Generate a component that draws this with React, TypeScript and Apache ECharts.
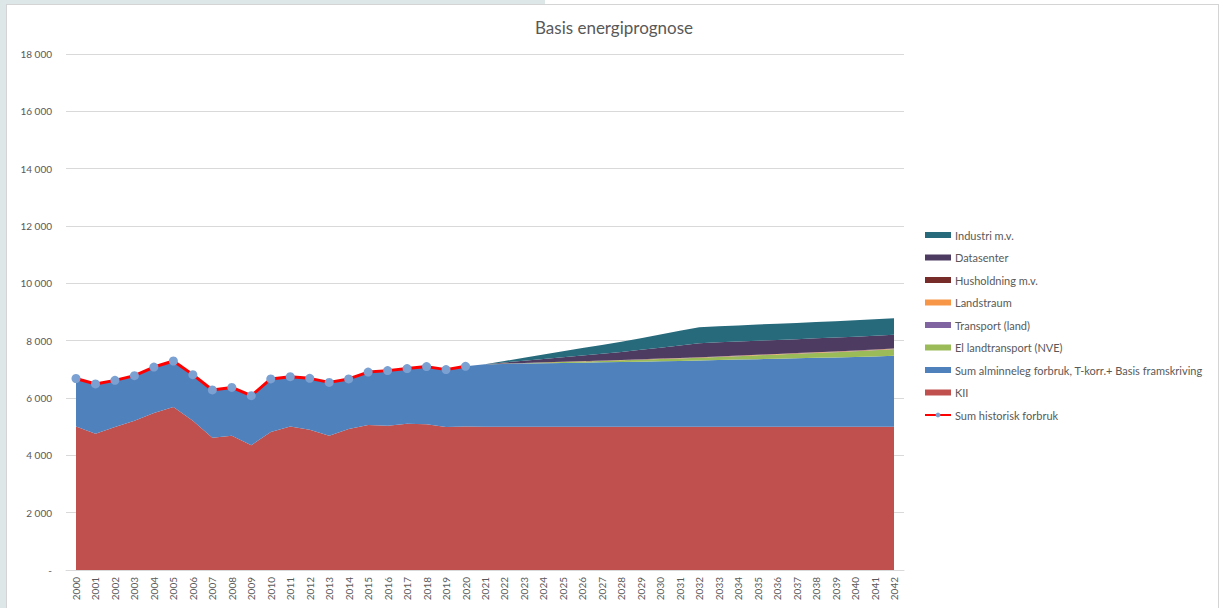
import React, { useEffect, useRef } from "react";
import * as echarts from "echarts";

const years = [
  "2000", "2001", "2002", "2003", "2004", "2005", "2006", "2007", "2008", "2009",
  "2010", "2011", "2012", "2013", "2014", "2015", "2016", "2017", "2018", "2019",
  "2020", "2021", "2022", "2023", "2024", "2025", "2026", "2027", "2028", "2029",
  "2030", "2031", "2032", "2033", "2034", "2035", "2036", "2037", "2038", "2039",
  "2040", "2041", "2042",
];

const yTicks = [0, 2000, 4000, 6000, 8000, 10000, 12000, 14000, 16000, 18000];

const kii = [
  5010, 4750, 4985, 5205, 5475, 5685, 5205, 4610, 4680, 4355,
  4810, 5010, 4890, 4680, 4915, 5055, 5030, 5100, 5080, 4985,
  5005, 5000, 5000, 5000, 5000, 5000, 5000, 5000, 5000, 5000,
  5000, 5000, 5000, 5000, 5000, 5000, 5000, 5000, 5000, 5000,
  5000, 5000, 5000,
];

const alminneleg = [
  1670, 1740, 1630, 1575, 1605, 1605, 1610, 1670, 1690, 1725,
  1855, 1735, 1795, 1865, 1750, 1850, 1925, 1925, 2015, 2005,
  2100, 2180, 2190, 2200, 2212, 2222, 2232, 2243, 2255, 2268,
  2282, 2295, 2310, 2325, 2340, 2355, 2370, 2385, 2400, 2415,
  2430, 2450, 2470,
];

const elLandtransport = [
  0, 0, 0, 0, 0, 0, 0, 0, 0, 0,
  0, 0, 0, 0, 0, 0, 0, 0, 0, 0,
  0, 0, 8, 16, 25, 33, 42, 50, 58, 67,
  75, 84, 92, 105, 118, 132, 145, 158, 172, 185,
  200, 215, 230,
];

const transportLand = [
  0, 0, 0, 0, 0, 0, 0, 0, 0, 0,
  0, 0, 0, 0, 0, 0, 0, 0, 0, 0,
  0, 0, 1, 1, 2, 2, 3, 3, 4, 4,
  5, 5, 5, 5, 6, 6, 6, 6, 7, 7,
  7, 7, 8,
];

const landstraum = [
  0, 0, 0, 0, 0, 0, 0, 0, 0, 0,
  0, 0, 0, 0, 0, 0, 0, 0, 0, 0,
  0, 0, 1, 2, 3, 4, 5, 6, 7, 8,
  9, 10, 10, 11, 12, 12, 13, 13, 14, 14,
  15, 15, 15,
];

const husholdning = [
  0, 0, 0, 0, 0, 0, 0, 0, 0, 0,
  0, 0, 0, 0, 0, 0, 0, 0, 0, 0,
  0, 0, 1, 1, 2, 2, 3, 3, 4, 4,
  5, 5, 5, 5, 5, 5, 5, 5, 5, 5,
  5, 5, 5,
];

const datasenter = [
  0, 0, 0, 0, 0, 0, 0, 0, 0, 0,
  0, 0, 0, 0, 0, 0, 0, 0, 0, 0,
  0, 0, 40, 80, 120, 160, 200, 240, 280, 330,
  380, 435, 490, 490, 489, 488, 487, 486, 485, 484,
  483, 482, 480,
];

const industri = [
  0, 0, 0, 0, 0, 0, 0, 0, 0, 0,
  0, 0, 0, 0, 0, 0, 0, 0, 0, 0,
  0, 0, 51, 102, 153, 204, 255, 305, 356, 407,
  458, 509, 560, 562, 563, 564, 566, 567, 568, 569,
  570, 572, 573,
];

const sumHistorisk = [
  6680, 6490, 6615, 6780, 7080, 7290, 6815, 6280, 6370, 6080,
  6665, 6745, 6685, 6545, 6665, 6905, 6955, 7025, 7095, 6990,
  7105, null, null, null, null, null, null, null, null, null,
  null, null, null, null, null, null, null, null, null, null,
  null, null, null,
];

const areaSeries = [
  { name: "KII", data: kii, color: "#c0504d" },
  { name: "Sum alminneleg forbruk, T-korr.+ Basis framskriving", data: alminneleg, color: "#4f81bd" },
  { name: "El landtransport (NVE)", data: elLandtransport, color: "#9bbb59" },
  { name: "Transport (land)", data: transportLand, color: "#8064a2" },
  { name: "Landstraum", data: landstraum, color: "#f79646" },
  { name: "Husholdning m.v.", data: husholdning, color: "#772c2a" },
  { name: "Datasenter", data: datasenter, color: "#4d3b62" },
  { name: "Industri m.v.", data: industri, color: "#276a7c" },
];

const FONT = "Lato, 'Open Sans', sans-serif";
const GREY = "#595959";

function fmt(v: number): string {
  if (v === 0) return "-";
  const s = String(Math.round(v));
  return s.replace(/\B(?=(\d{3})+(?!\d))/g, " ");
}

export default function App() {
  const ref = useRef<HTMLDivElement>(null);

  useEffect(() => {
    if (!ref.current) return;
    const chart = echarts.init(ref.current, undefined, { renderer: "svg" });

    const legendNames = [
      "Industri m.v.",
      "Datasenter",
      "Husholdning m.v.",
      "Landstraum",
      "Transport (land)",
      "El landtransport (NVE)",
      "Sum alminneleg forbruk, T-korr.+ Basis framskriving",
      "KII",
    ];

    const option: any = {
      animation: false,
      backgroundColor: "transparent",
      textStyle: { fontFamily: FONT },
      title: {
        text: "Basis energiprognose",
        left: 609,
        top: 14,
        textAlign: "center",
        textStyle: { fontFamily: FONT, fontSize: 17, fontWeight: "normal", color: GREY },
      },
      legend: {
        orient: "vertical",
        left: 924,
        top: 229,
        padding: 0,
        itemWidth: 26,
        itemHeight: 6,
        itemGap: 10.5,
        textStyle: { fontFamily: FONT, fontSize: 11, color: GREY, lineHeight: 12, padding: [0, 0, 0, -1] },
        data: [
          ...legendNames.map((n) => ({ name: n, icon: "rect" })),
          { name: "Sum historisk forbruk" },
        ],
      },
      grid: [
        { left: 66, right: 319, top: 54, bottom: 38 },
        { left: 76, right: 329, top: 54, bottom: 38 },
      ],
      xAxis: [
        {
          gridIndex: 0,
          type: "value",
          min: 0,
          max: 1,
          axisLine: { show: true, lineStyle: { color: "#d9d9d9", width: 1 } },
          axisTick: { show: false },
          axisLabel: { show: false },
          splitLine: { show: false },
        },
        {
          gridIndex: 1,
          type: "category",
          data: years,
          boundaryGap: false,
          axisLine: { show: false },
          axisTick: { show: false },
          axisLabel: {
            rotate: 90,
            interval: 0,
            margin: 7,
            fontFamily: FONT,
            fontSize: 10,
            color: GREY,
          },
          splitLine: { show: false },
        },
      ],
      yAxis: [
        {
          gridIndex: 0,
          type: "value",
          min: yTicks[0],
          max: yTicks[yTicks.length - 1],
          interval: 2000,
          axisLine: { show: false },
          axisTick: { show: false },
          axisLabel: {
            margin: 14,
            fontFamily: FONT,
            fontSize: 10,
            color: GREY,
            formatter: (v: number) => fmt(v),
          },
          splitLine: { show: true, lineStyle: { color: "#d9d9d9", width: 1 } },
        },
        {
          gridIndex: 1,
          type: "value",
          min: yTicks[0],
          max: yTicks[yTicks.length - 1],
          interval: 2000,
          axisLine: { show: false },
          axisTick: { show: false },
          axisLabel: { show: false },
          splitLine: { show: false },
        },
      ],
      series: [
        ...areaSeries.map((s) => ({
          name: s.name,
          type: "line",
          xAxisIndex: 1,
          yAxisIndex: 1,
          stack: "total",
          data: s.data,
          symbol: "none",
          showSymbol: false,
          color: s.color,
          itemStyle: { color: s.color },
          lineStyle: { width: 0, color: s.color },
          areaStyle: { color: s.color, opacity: 1 },
          emphasis: { disabled: true },
          z: 2,
        })),
        {
          name: "Sum historisk forbruk",
          type: "line",
          xAxisIndex: 1,
          yAxisIndex: 1,
          data: sumHistorisk,
          symbol: "circle",
          symbolSize: 9,
          showSymbol: true,
          color: "#ff0000",
          lineStyle: { color: "#ff0000", width: 3 },
          itemStyle: { color: "#7ba0d2", borderWidth: 0 },
          emphasis: { disabled: true },
          z: 5,
        },
      ],
    };

    chart.setOption(option);
    return () => chart.dispose();
  }, []);

  return (
    <div
      style={{
        position: "fixed",
        left: 0,
        top: 0,
        width: 1223,
        height: 608,
        background: "#ffffff",
        overflow: "hidden",
      }}
    >
      <div style={{ position: "absolute", left: 0, top: 0, width: 545, height: 4, background: "#dde7e8" }} />
      <div style={{ position: "absolute", left: 0, top: 0, width: 6, height: 608, background: "#dde7e8" }} />
      <div
        style={{
          position: "absolute",
          left: 6,
          top: 4,
          width: 1211,
          height: 620,
          background: "#ffffff",
          borderLeft: "1px solid #d4d4d4",
          borderTop: "1px solid #d4d4d4",
          borderRight: "1px solid #d4d4d4",
        }}
      />
      <div ref={ref} style={{ position: "absolute", left: 0, top: 0, width: 1223, height: 608 }} />
    </div>
  );
}
